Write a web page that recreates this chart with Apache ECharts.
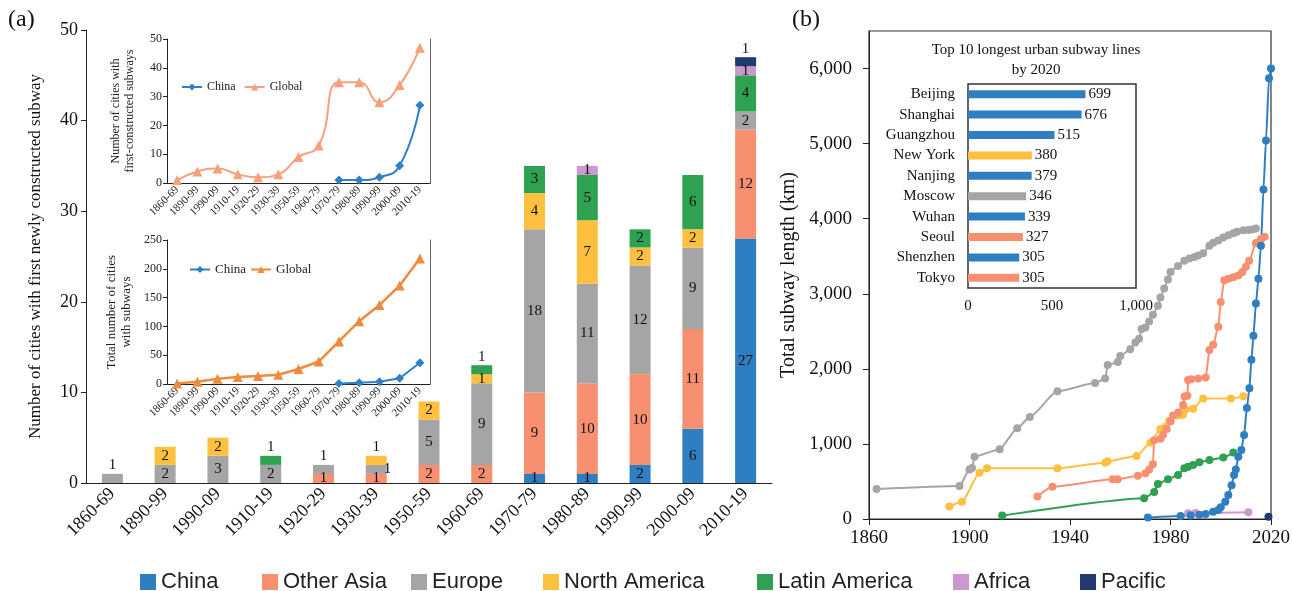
<!DOCTYPE html>
<html>
<head>
<meta charset="utf-8">
<script src="https://cdn.jsdelivr.net/npm/echarts@6/dist/echarts.min.js"></script>
<style>html,body{margin:0;padding:0;background:#fff}#c{width:1293px;height:591px}</style>
</head>
<body>
<div id="c"></div>
<script>
// ---------- DATA ----------
const mainCats = ["1860-69","1890-99","1990-09","1910-19","1920-29","1930-39","1950-59","1960-69","1970-79","1980-89","1990-99","2000-09","2010-19"];
const regions = ["China","Other Asia","Europe","North America","Latin America","Africa","Pacific"];
const chinaNew        = [0,0,0,0,0,0,0,0,1,1,2,6,27];
const otherAsiaNew    = [0,0,0,0,1,1,2,2,9,10,10,11,12];
const europeNew       = [1,2,3,2,1,1,5,9,18,11,12,9,2];
const northAmericaNew = [0,2,2,0,0,1,2,1,4,7,2,2,0];
const latinAmericaNew = [0,0,0,1,0,0,0,1,3,5,2,6,4];
const africaNew       = [0,0,0,0,0,0,0,0,0,1,0,0,1];
const pacificNew      = [0,0,0,0,0,0,0,0,0,0,0,0,1];

const insetCats = ["1860-69","1890-99","1990-09","1910-19","1920-29","1930-39","1950-59","1960-79","1970-79","1980-89","1990-99","2000-09","2010-19"];
const globalNewCities = [1,4,5,3,2,3,9,13,35,35,28,34,47];
const chinaNewCities  = [null,null,null,null,null,null,null,null,1,1,2,6,27];
const globalTotalCities = [1,4,9,12,14,16,26,39,74,109,137,171,218];
const chinaTotalCities  = [null,null,null,null,null,null,null,null,1,2,4,10,37];

const topCities  = ["Beijing","Shanghai","Guangzhou","New York","Nanjing","Moscow","Wuhan","Seoul","Shenzhen","Tokyo"];
const topLengths = [699,676,515,380,379,346,339,327,305,305];
const topRegions = ["China","China","China","North America","China","Europe","China","Other Asia","China","Other Asia"];

const lenEurope = [[1863,400],[1896,440],[1900,660],[1901,680],[1902,830],[1912,930],[1919,1210],[1924,1360],[1935,1700],[1950,1810],[1954,1870],[1955,2050],[1959,2090],[1960,2170],[1964,2260],[1966,2350],[1967.5,2400],[1968.5,2530],[1970,2550],[1971.5,2630],[1973,2720],[1975,2840],[1976,2950],[1977.5,3070],[1979,3190],[1980,3290],[1983,3370],[1985.5,3440],[1987.5,3470],[1989.5,3490],[1991,3510],[1993,3540],[1995.5,3640],[1997,3680],[1999,3710],[2001,3750],[2003,3780],[2005,3805],[2006.5,3825],[2009,3845],[2011,3850],[2012.5,3855],[2014,3870]];
const lenNorthAmerica = [[1892,165],[1897,230],[1904,615],[1907,675],[1935,675],[1954,750],[1955,770],[1966.5,840],[1972,1015],[1976,1200],[1978,1230],[1979.5,1310],[1983,1380],[1985,1390],[1986,1460],[1989,1470],[1993,1605],[2004,1605],[2009,1635]];
const lenOtherAsia = [[1927,300],[1933,430],[1957,530],[1959,530],[1967,575],[1970,610],[1971.5,660],[1973,730],[1973.5,1050],[1976,1070],[1977,1120],[1978.5,1200],[1980,1300],[1981,1380],[1983,1420],[1985,1520],[1985.6,1630],[1986.7,1640],[1987,1850],[1988.2,1860],[1991,1870],[1994,1885],[1995.5,2250],[1997,2320],[1999,2560],[2000,2890],[2001.4,3180],[2003,3200],[2005,3220],[2007,3245],[2008.6,3290],[2010,3360],[2011.3,3440],[2014,3675],[2016,3730],[2017.5,3760]];
const lenLatinAmerica = [[1913,45],[1969.5,275],[1973.5,360],[1975,465],[1979,530],[1983,585],[1985.5,675],[1987,695],[1989,720],[1991.5,755],[1995.5,785],[2001,820],[2005,885]];
const lenChina = [[1971,20],[1984,40],[1988,45],[1991.5,55],[1994,65],[1997,95],[1999,120],[2000,155],[2001.8,230],[2003,320],[2004.3,450],[2005.3,585],[2006,660],[2007,830],[2008.2,920],[2009.3,1120],[2010.4,1480],[2011.4,1740],[2012.2,2120],[2013,2440],[2014,2870],[2015,3200],[2016,3640],[2017,4390],[2018,5040],[2019.2,5870],[2020,6000]];
const lenAfrica = [[1987,75],[1990,80],[2011,90]];
const lenPacific = [[2019,30]];

const mainYTicks = [0,10,20,30,40,50];
const lenYearTicks = [1860,1900,1940,1980,2020];
const lenKmTicks = [0,1000,2000,3000,4000,5000,6000];

// ---------- STYLE ----------
const serif = '"Liberation Serif","Times New Roman",serif';
const sans = '"Liberation Sans",Arial,sans-serif';
const colors = {"China":"#2F7EC1","Other Asia":"#F79070","Europe":"#A5A5A5","North America":"#FFC040","Latin America":"#2EA250","Africa":"#CC98CF","Pacific":"#213A72"};
const insetBlue = "#2F80C6";
const labelPlace = {
  "Europe|1860-69":"top","Europe|1920-29":"top","Latin America|1910-19":"top",
  "Latin America|1960-69":"top","Pacific|2010-19":"top","North America|1930-39":"top",
  "Europe|1930-39":"right"
};
const newByRegion = [chinaNew,otherAsiaNew,europeNew,northAmericaNew,latinAmericaNew,africaNew,pacificNew];
const axisColor = '#222';
const fmt = v => Number(v).toLocaleString('en-US');

const series = [];
regions.forEach((r,ri)=>{
  series.push({
    name:r, type:'bar', stack:'new', xAxisIndex:0, yAxisIndex:0, barWidth:21,
    itemStyle:{color:colors[r]},
    data: newByRegion[ri].map((v,ci)=>{
      if(!v) return null;
      const pos = labelPlace[r+'|'+mainCats[ci]] || 'inside';
      return {value:v, label:{position:pos, distance: pos==='right'? -3 : 1}};
    }),
    label:{show:true, color:'#111', fontFamily:serif, fontSize:15},
    emphasis:{disabled:true}
  });
});

// inset 1
series.push({name:'in1_China',type:'line',xAxisIndex:1,yAxisIndex:1,data:chinaNewCities,smooth:true,symbol:'diamond',symbolSize:9,lineStyle:{width:2,color:insetBlue},itemStyle:{color:insetBlue},z:5});
series.push({name:'in1_Global',type:'line',xAxisIndex:1,yAxisIndex:1,data:globalNewCities,smooth:true,symbol:'triangle',symbolSize:10,lineStyle:{width:2,color:'#F7A07C'},itemStyle:{color:'#F7A07C'},z:4});
// inset 2
series.push({name:'in2_China',type:'line',xAxisIndex:2,yAxisIndex:3,data:chinaTotalCities,symbol:'diamond',symbolSize:9,lineStyle:{width:2,color:insetBlue},itemStyle:{color:insetBlue},z:5});
series.push({name:'in2_Global',type:'line',xAxisIndex:2,yAxisIndex:3,data:globalTotalCities,symbol:'triangle',symbolSize:10,lineStyle:{width:2.5,color:'#F08A3C'},itemStyle:{color:'#F08A3C'},z:4});

// panel b lines
const lenSeries = [["Europe",lenEurope],["North America",lenNorthAmerica],["Other Asia",lenOtherAsia],["Latin America",lenLatinAmerica],["Africa",lenAfrica],["China",lenChina],["Pacific",lenPacific]];
lenSeries.forEach(([r,d])=>{
  series.push({name:'len_'+r,type:'line',xAxisIndex:3,yAxisIndex:5,data:d,smooth:0.2,smoothMonotone:'x',
    symbol:'circle',symbolSize:8,lineStyle:{width:2,color:colors[r]},itemStyle:{color:colors[r]},z:3});
});
// panel b inset bars
series.push({name:'top10',type:'bar',xAxisIndex:4,yAxisIndex:6,barWidth:8,
  data: topLengths.map((v,i)=>({value:v,itemStyle:{color:colors[topRegions[i]]}})),
  label:{show:true,position:'right',distance:3,color:'#111',fontFamily:serif,fontSize:15}
});

const legendPos = {"China":135,"Other Asia":257,"Europe":406,"North America":538,"Latin America":752,"Africa":948,"Pacific":1075};
const legends = regions.map(r=>({
  data:[r], left:legendPos[r], top:566, icon:'rect', itemWidth:16, itemHeight:16,
  textStyle:{fontFamily:sans,fontSize:22,color:'#222'}, selectedMode:false
}));
legends.push({data:['in1_China','in1_Global'],left:176,top:76,itemWidth:20,itemHeight:9,itemGap:8,selectedMode:false,
  formatter:n=>n.replace('in1_',''),textStyle:{fontFamily:serif,fontSize:12,color:'#222'}});
legends.push({data:['in2_China','in2_Global'],left:184,top:258,itemWidth:20,itemHeight:9,itemGap:4,selectedMode:false,
  formatter:n=>n.replace('in2_',''),textStyle:{fontFamily:serif,fontSize:13,color:'#222'}});

const smallAxisLabel = {fontFamily:serif,fontSize:12,color:'#222'};
const option = {
  animation:false,
  backgroundColor:'#fff',
  grid:[
    {left:86,top:30,width:686,height:453},
    {left:167,top:39,width:263,height:144},
    {left:167,top:240,width:263,height:144},
    {left:869,top:31,width:405,height:488,show:true,borderColor:'#333',borderWidth:1.2},
    {left:968,top:84,width:168,height:204,show:true,borderColor:'#333',borderWidth:1.5}
  ],
  xAxis:[
    {gridIndex:0,type:'category',data:mainCats,axisLine:{lineStyle:{color:axisColor}},
      axisTick:{length:6,lineStyle:{color:axisColor}},
      axisLabel:{rotate:45,interval:0,fontFamily:serif,fontSize:18,color:'#111',margin:8}},
    {gridIndex:1,type:'category',data:insetCats,axisLine:{lineStyle:{color:axisColor}},
      axisTick:{length:4,lineStyle:{color:axisColor}},
      axisLabel:{rotate:45,interval:0,fontFamily:serif,fontSize:11,color:'#222',margin:5}},
    {gridIndex:2,type:'category',data:insetCats,axisLine:{lineStyle:{color:axisColor}},
      axisTick:{length:4,lineStyle:{color:axisColor}},
      axisLabel:{rotate:45,interval:0,fontFamily:serif,fontSize:11,color:'#222',margin:5}},
    {gridIndex:3,type:'value',min:1860,max:2020,splitLine:{show:false},
      axisLine:{lineStyle:{color:axisColor}},
      axisTick:{length:6,customValues:lenYearTicks,lineStyle:{color:axisColor}},
      axisLabel:{customValues:lenYearTicks,formatter:v=>String(v),fontFamily:serif,fontSize:19,color:'#111',margin:10}},
    {gridIndex:4,type:'value',min:0,max:1000,interval:500,splitLine:{show:false},
      axisLine:{show:false},axisTick:{show:false},
      axisLabel:{formatter:fmt,fontFamily:serif,fontSize:15,color:'#111',margin:11}}
  ],
  yAxis:[
    {gridIndex:0,type:'value',min:0,max:50,interval:10,splitLine:{show:false},
      axisLine:{show:true,lineStyle:{color:axisColor}},axisTick:{show:true,length:5,lineStyle:{color:axisColor}},
      axisLabel:{fontFamily:serif,fontSize:18,color:'#111',margin:8},
      name:'Number of cities with first newly constructed subway',nameLocation:'middle',nameGap:42,
      nameTextStyle:{fontFamily:serif,fontSize:17,color:'#111'}},
    {gridIndex:1,type:'value',min:0,max:50,interval:10,splitLine:{show:false},
      axisLine:{show:true,lineStyle:{color:axisColor}},axisTick:{show:true,length:4,lineStyle:{color:axisColor}},
      axisLabel:Object.assign({margin:5},smallAxisLabel),
      name:'Number of cities with\nfirst-constructed subways',nameLocation:'middle',nameGap:30,
      nameTextStyle:{fontFamily:serif,fontSize:12,color:'#222',lineHeight:14}},
    {gridIndex:1,type:'value',position:'right',splitLine:{show:false},axisLine:{show:true,lineStyle:{color:'#666'}},
      axisTick:{show:false},axisLabel:{show:false}},
    {gridIndex:2,type:'value',min:0,max:250,interval:50,splitLine:{show:false},
      axisLine:{show:true,lineStyle:{color:axisColor}},axisTick:{show:true,length:4,lineStyle:{color:axisColor}},
      axisLabel:Object.assign({margin:5},smallAxisLabel),
      name:'Total number of cities\nwith subways',nameLocation:'middle',nameGap:33,
      nameTextStyle:{fontFamily:serif,fontSize:13,color:'#222',lineHeight:15}},
    {gridIndex:2,type:'value',position:'right',splitLine:{show:false},axisLine:{show:true,lineStyle:{color:'#666'}},
      axisTick:{show:false},axisLabel:{show:false}},
    {gridIndex:3,type:'value',min:0,max:6500,splitLine:{show:false},
      axisLine:{show:true,lineStyle:{color:axisColor}},
      axisTick:{show:true,length:6,customValues:lenKmTicks,lineStyle:{color:axisColor}},
      axisLabel:{customValues:lenKmTicks,formatter:fmt,fontFamily:serif,fontSize:19,color:'#111',margin:17},
      name:'Total subway length (km)',nameLocation:'middle',nameGap:70,
      nameTextStyle:{fontFamily:serif,fontSize:20,color:'#111'}},
    {gridIndex:4,type:'category',data:topCities,inverse:true,
      axisLine:{show:false},axisTick:{show:false},
      axisLabel:{interval:0,fontFamily:serif,fontSize:15,color:'#111',margin:13}}
  ],
  legend:legends,
  graphic:[
    {type:'text',left:8,top:8,style:{text:'(a)',font:'24px "Liberation Serif"',fill:'#111'}},
    {type:'text',left:792,top:8,style:{text:'(b)',font:'24px "Liberation Serif"',fill:'#111'}},
    {type:'text',x:1036,y:40,style:{text:'Top 10 longest urban subway lines\nby 2020',textAlign:'center',font:'15px "Liberation Serif"',lineHeight:20,fill:'#111'}}
  ],
  series:series
};
const chart = echarts.init(document.getElementById('c'),null,{renderer:'canvas'});
chart.setOption(option);
</script>
</body>
</html>
